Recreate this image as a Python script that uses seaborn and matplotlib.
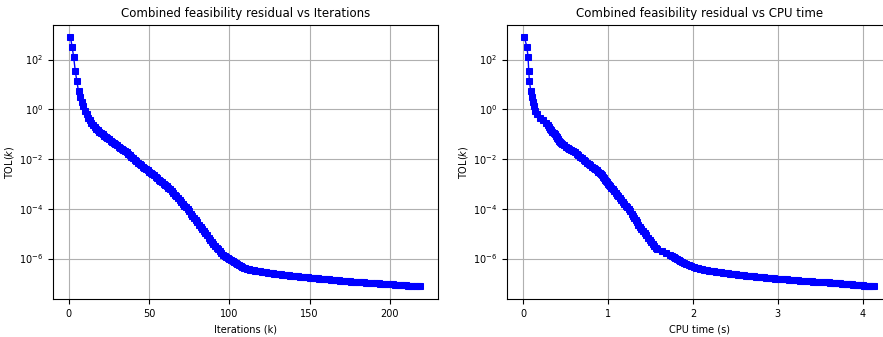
import numpy as np
import matplotlib
matplotlib.use("Agg")
import matplotlib.pyplot as plt
import seaborn as sns

# iteration index k
iterations = list(range(1, 220))

# log10 of TOL(k)
log_tol = [
    2.89, 2.52, 2.09, 1.53, 1.13, 0.72, 0.50, 0.30, 0.12, -0.05,
    -0.20, -0.33, -0.45, -0.55, -0.64, -0.72, -0.79, -0.85, -0.91, -0.96,
    -1.01, -1.06, -1.11, -1.16, -1.21, -1.26, -1.30, -1.35, -1.40, -1.45,
    -1.50, -1.54, -1.59, -1.64, -1.68, -1.73, -1.79, -1.85, -1.91, -1.97,
    -2.03, -2.08, -2.14, -2.20, -2.25, -2.30, -2.35, -2.40, -2.45, -2.50,
    -2.55, -2.61, -2.66, -2.72, -2.77, -2.83, -2.88, -2.94, -2.99, -3.05,
    -3.10, -3.16, -3.22, -3.29, -3.36, -3.43, -3.50, -3.57, -3.63, -3.71,
    -3.79, -3.87, -3.94, -4.02, -4.10, -4.19, -4.28, -4.37, -4.45, -4.54,
    -4.63, -4.72, -4.81, -4.90, -4.98, -5.07, -5.16, -5.24, -5.32, -5.40,
    -5.48, -5.56, -5.63, -5.70, -5.77, -5.84, -5.90, -5.95, -5.99, -6.03,
    -6.07, -6.11, -6.15, -6.19, -6.23, -6.27, -6.30, -6.33, -6.36, -6.38,
    -6.40, -6.42, -6.44, -6.45, -6.47, -6.48, -6.49, -6.50, -6.51, -6.52,
    -6.53, -6.54, -6.55, -6.56, -6.57, -6.58, -6.59, -6.60, -6.61, -6.62,
    -6.63, -6.63, -6.64, -6.65, -6.66, -6.66, -6.67, -6.68, -6.69, -6.69,
    -6.70, -6.71, -6.71, -6.72, -6.73, -6.73, -6.74, -6.75, -6.75, -6.76,
    -6.77, -6.77, -6.78, -6.79, -6.79, -6.80, -6.81, -6.81, -6.82, -6.83,
    -6.83, -6.84, -6.85, -6.85, -6.86, -6.87, -6.87, -6.88, -6.89, -6.89,
    -6.90, -6.91, -6.91, -6.92, -6.92, -6.93, -6.93, -6.94, -6.94, -6.95,
    -6.95, -6.96, -6.96, -6.96, -6.97, -6.97, -6.98, -6.98, -6.99, -6.99,
    -7.00, -7.00, -7.00, -7.01, -7.01, -7.02, -7.02, -7.03, -7.03, -7.04,
    -7.04, -7.04, -7.05, -7.05, -7.06, -7.06, -7.07, -7.07, -7.08, -7.08,
    -7.09, -7.09, -7.10, -7.10, -7.10, -7.11, -7.11, -7.12, -7.12,
]

# cumulative CPU time (s) at each iteration
cpu_time = [
    0.010, 0.040, 0.054, 0.062, 0.070, 0.086, 0.097, 0.108, 0.119, 0.135,
    0.160, 0.190, 0.230, 0.260, 0.285, 0.300, 0.315, 0.330, 0.342, 0.354,
    0.366, 0.378, 0.390, 0.400, 0.410, 0.420, 0.430, 0.440, 0.460, 0.480,
    0.500, 0.520, 0.540, 0.560, 0.582, 0.604, 0.626, 0.648, 0.670, 0.690,
    0.710, 0.730, 0.750, 0.770, 0.790, 0.808, 0.827, 0.845, 0.864, 0.882,
    0.900, 0.918, 0.930, 0.942, 0.954, 0.966, 0.978, 0.990, 1.002, 1.014,
    1.026, 1.038, 1.054, 1.070, 1.086, 1.102, 1.118, 1.134, 1.152, 1.170,
    1.188, 1.206, 1.224, 1.242, 1.260, 1.276, 1.292, 1.308, 1.324, 1.340,
    1.356, 1.372, 1.390, 1.410, 1.429, 1.448, 1.468, 1.487, 1.506, 1.525,
    1.543, 1.562, 1.580, 1.630, 1.680, 1.730, 1.750, 1.770, 1.790, 1.810,
    1.830, 1.850, 1.870, 1.890, 1.919, 1.948, 1.977, 2.006, 2.035, 2.064,
    2.085, 2.106, 2.127, 2.148, 2.169, 2.190, 2.211, 2.232, 2.252, 2.272,
    2.292, 2.312, 2.332, 2.352, 2.372, 2.392, 2.412, 2.432, 2.451, 2.470,
    2.490, 2.509, 2.528, 2.548, 2.567, 2.586, 2.606, 2.625, 2.644, 2.664,
    2.683, 2.702, 2.722, 2.741, 2.760, 2.780, 2.799, 2.818, 2.838, 2.857,
    2.876, 2.896, 2.915, 2.934, 2.954, 2.973, 2.992, 3.015, 3.037, 3.060,
    3.082, 3.105, 3.128, 3.150, 3.173, 3.195, 3.218, 3.240, 3.263, 3.286,
    3.308, 3.331, 3.353, 3.376, 3.398, 3.421, 3.444, 3.466, 3.489, 3.511,
    3.534, 3.556, 3.579, 3.600, 3.615, 3.631, 3.646, 3.662, 3.677, 3.692,
    3.708, 3.723, 3.739, 3.754, 3.769, 3.785, 3.800, 3.816, 3.831, 3.846,
    3.862, 3.877, 3.893, 3.908, 3.923, 3.939, 3.954, 3.970, 3.985, 4.000,
    4.016, 4.031, 4.047, 4.062, 4.077, 4.093, 4.108, 4.124, 4.139,
]

y_ticks = [1e2, 1e0, 1e-2, 1e-4, 1e-6]

assert len(log_tol) == len(iterations) == len(cpu_time)
tol = 10.0 ** np.array(log_tol)

plt.rcParams['font.family'] = ['DejaVu Sans']
FONT_TITLE = 8.5
FONT_LABEL = 7
FONT_TICK = 7

fig = plt.figure(figsize=(8.83, 3.37), dpi=100)
ax1 = fig.add_axes([0.060, 0.113, 0.436, 0.813])
ax2 = fig.add_axes([0.574, 0.113, 0.436, 0.813])

panels = [
    (ax1, iterations, "Iterations (k)", "Combined feasibility residual vs Iterations"),
    (ax2, cpu_time, "CPU time (s)", "Combined feasibility residual vs CPU time"),
]

for ax, xs, xlabel, title in panels:
    sns.lineplot(x=xs, y=tol, ax=ax, color="blue", marker="s", markersize=4.3,
                 markeredgecolor="blue", linewidth=1.0, sort=False, estimator=None)
    ax.set_yscale("log")
    lo, hi = ax.get_ylim()
    ax.set_yticks(y_ticks)
    ax.yaxis.set_minor_locator(matplotlib.ticker.NullLocator())
    ax.set_ylim(lo, hi)
    ax.grid(True, color="#b0b0b0", linewidth=0.8)
    ax.set_axisbelow(True)
    ax.set_title(title, fontsize=FONT_TITLE)
    ax.set_xlabel(xlabel, fontsize=FONT_LABEL)
    ax.set_ylabel("TOL($k$)", fontsize=FONT_LABEL, labelpad=2)
    ax.tick_params(labelsize=FONT_TICK)

fig.savefig("out.png", dpi=100)
